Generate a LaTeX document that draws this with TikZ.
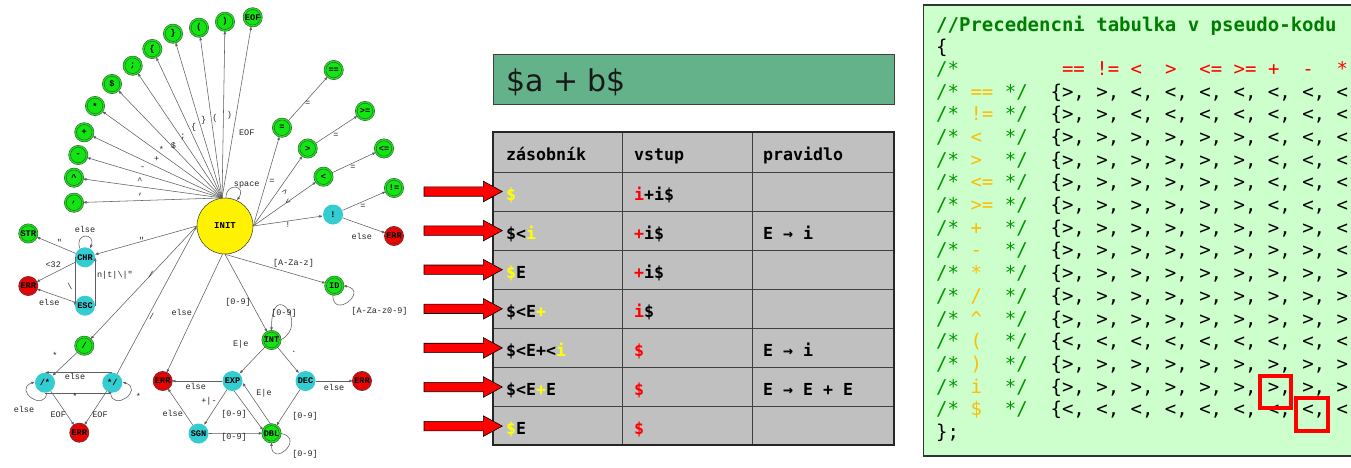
\documentclass[tikz,border=0pt]{standalone}
\usepackage{fontspec}
\setmainfont{DejaVu Sans}
\newfontfamily\codefont{DejaVu Sans Mono}
\newfontfamily\fsmfont{Liberation Mono}
\newfontfamily\boxfont{DejaVu Sans}
\usetikzlibrary{arrows.meta}
\definecolor{accgreen}{RGB}{20,228,20}
\definecolor{tcyan}{RGB}{51,204,208}
\definecolor{errred}{RGB}{245,0,0}
\definecolor{edgegray}{RGB}{95,95,95}
\definecolor{panelgreen}{RGB}{204,255,204}
\definecolor{cmtgreen}{RGB}{0,150,0}
\definecolor{hdrgreen}{RGB}{0,125,0}
\definecolor{lblorange}{RGB}{255,188,0}
\definecolor{boxgreen}{RGB}{100,178,138}
\definecolor{cellgray}{RGB}{192,192,192}
\definecolor{tyellow}{RGB}{255,255,0}
\definecolor{tred}{RGB}{255,0,0}
\newcommand\precrow[4]{%
  \node[code,text=cmtgreen] (#1a) at (936,{98+22.7*#2}) {/*};
  \node[code,text=lblorange] (#1b) at (970.3,{98+22.7*#2}) {#3};
  \node[code,text=cmtgreen] (#1c) at (1004.6,{98+22.7*#2}) {*/};
  \node[code] (#1d) at (1050.4,{98+22.7*#2}) {\{#4};
}
\newcommand\redarrowat[1]{%
  \draw[fill=red,draw=black,line width=0.6pt] (424,{#1-4.7}) -- (483.3,{#1-4.7}) -- (483.3,{#1-10.3}) -- (502.3,#1) -- (483.3,{#1+10.3}) -- (483.3,{#1+4.7}) -- (424,{#1+4.7}) -- cycle;
}
\begin{document}
\begin{tikzpicture}[x=1pt,y=-1pt,
  acc/.style={circle,fill=accgreen,draw=black!75,double=accgreen,double distance=1.4pt,line width=0.45pt,minimum size=17.5pt,inner sep=0pt,font=\fsmfont\bfseries\fontsize{8.6}{8.6}\selectfont},
  errst/.style={acc,fill=errred,double=errred},
  midst/.style={circle,fill=tcyan,minimum size=20pt,inner sep=0pt,font=\fsmfont\bfseries\fontsize{8.6}{8.6}\selectfont},
  initst/.style={circle,fill=yellow,draw=black!80,line width=0.5pt,minimum size=56pt,inner sep=0pt,font=\fsmfont\bfseries\fontsize{9}{9}\selectfont},
  tr/.style={draw=edgegray,line width=0.55pt,-{Latex[length=3.6pt,width=2.8pt]}},
  lbl/.style={font=\fsmfont\fontsize{8.5}{8.5}\selectfont,text=black!85,inner sep=0pt},
  code/.style={font=\codefont\fontsize{19}{19}\selectfont,anchor=base west,inner sep=0pt},
  tcell/.style={font=\codefont\bfseries\fontsize{16.6}{16.6}\selectfont,anchor=base west,inner sep=0pt,text=black},
]
\useasboundingbox (0,0) rectangle (1351,467);
\fill[white] (0,0) rectangle (1351,467);

% ================= state machine =================
\node[initst] (INIT) at (225,226) {INIT};
% fan
\node[acc] (fcomma) at (74,202.7) {,};
\node[acc] (fcaret) at (74,177.7) {\textasciicircum};
\node[acc] (fminus) at (78.3,155) {-};
\node[acc] (fplus) at (84.3,132.3) {+};
\node[acc] (fstar) at (95,106) {*};
\node[acc] (fdollar) at (112,84) {\$};
\node[acc] (fsemi) at (132.7,65.7) {;};
\node[acc] (flbrace) at (152.3,49) {\{};
\node[acc] (frbrace) at (173,33.7) {\}};
\node[acc] (flpar) at (199,27.7) {(};
\node[acc] (frpar) at (225,21.7) {)};
\node[acc] (feof) at (252.7,17.3) {EOF};
% right
\node[acc] (eq) at (282,127.7) {=};
\node[acc] (eqeq) at (333.7,70) {==};
\node[acc] (gt) at (307.7,148.5) {>};
\node[acc] (ge) at (365,111) {>=};
\node[acc] (lt) at (323.5,176.7) {<};
\node[acc] (le) at (384,148.5) {<=};
\node[acc] (ne) at (394,188) {!=};
\node[midst] (excl) at (333,214.5) {!};
\node[errst] (errx) at (394,236) {ERR};
% left
\node[acc] (str) at (28.3,233.5) {STR};
\node[midst] (chr) at (85,257.3) {CHR};
\node[errst] (errl) at (28.3,286) {ERR};
\node[midst] (esc) at (85,305.7) {ESC};
\node[acc] (slash) at (84.3,345.7) {/};
\node[midst] (cmt) at (45,382.7) {/*};
\node[midst] (cmtend) at (112.3,382.7) {*/};
\node[errst] (errc) at (79.3,432.7) {ERR};
% lower right
\node[errst] (errm) at (162.7,381) {ERR};
\node[midst] (expn) at (232.5,381) {EXP};
\node[midst] (dec) at (305.5,381) {DEC};
\node[errst] (errd) at (362,381) {ERR};
\node[acc] (intn) at (271.5,340) {INT};
\node[midst] (sgn) at (198.5,433.5) {SGN};
\node[acc] (dbl) at (271.5,433.3) {DBL};
\node[acc] (idn) at (334.3,285.7) {ID};

% fan edges
\draw[tr] (INIT.96) -- (fcomma);
\draw[tr] (INIT.96) -- (fcaret);
\draw[tr] (INIT.96) -- (fminus);
\draw[tr] (INIT.96) -- (fplus);
\draw[tr] (INIT.96) -- (fstar);
\draw[tr] (INIT.96) -- (fdollar);
\draw[tr] (INIT.96) -- (fsemi);
\draw[tr] (INIT.96) -- (flbrace);
\draw[tr] (INIT.96) -- (frbrace);
\draw[tr] (INIT.96) -- (flpar);
\draw[tr] (INIT.96) -- (frpar);
\draw[tr] (INIT.96) -- (feof);
\draw[tr] (INIT.88) .. controls +(0,-16) and +(10,-15) .. (INIT.65);
% right edges
\draw[tr] (INIT.east) -- (eq);
\draw[tr] (INIT.east) -- (gt);
\draw[tr] (INIT.east) -- (lt);
\draw[tr] (INIT.east) -- (excl);
\draw[tr] (eq) -- (eqeq);
\draw[tr] (gt) -- (ge);
\draw[tr] (lt) -- (le);
\draw[tr] (excl) -- (ne);
\draw[tr] (excl) -- (errx);
% left edges
\draw[tr] (INIT.west) -- (chr);
\draw[tr] (INIT.west) -- (slash);
\draw[tr] (cmtend) -- (INIT.west);
\draw[tr] (chr) -- (str);
\draw[tr] (chr.120) .. controls +(-6,-16) and +(6,-16) .. (chr.60);
\draw[tr] (chr) -- (errl);
\draw[tr] (esc) -- (errl);
\draw[tr] (chr.west) -- (esc.west);
\draw[tr] (esc.east) -- (chr.east);
\draw[tr] (slash) -- (cmt);
\draw[tr] (cmt.south) -- (cmtend.south);
\draw[tr] (cmtend.north) -- (cmt.north);
\draw[tr] (cmt.-80) .. controls +(-2,20) and +(-22,8) .. (cmt.175);
\draw[tr] (cmtend.-100) .. controls +(2,20) and +(22,8) .. (cmtend.5);
\draw[tr] (cmt) -- (errc);
\draw[tr] (cmtend) -- (errc);
% lower right edges
\draw[tr] (INIT.265) -- (errm);
\draw[tr] (INIT.south) -- (intn);
\draw[tr] (INIT.south) -- (idn);
\draw[tr] (idn.-100) .. controls +(0,26) and +(26,5) .. (idn.east);
\draw[tr] (intn.east) .. controls +(30,-15) and +(0,-55) .. (intn.north);
\draw[tr] (intn) -- (expn);
\draw[tr] (intn) -- (dec);
\draw[tr] (expn) -- (errm);
\draw[tr] (dec) -- (errd);
\draw[tr] (expn) -- (sgn);
\draw[tr] (expn.-80) -- (dbl.160);
\draw[tr] (dbl.95) -- (expn.-10);
\draw[tr] (dec) -- (dbl);
\draw[tr] (sgn) -- (errm);
\draw[tr] (sgn) -- (dbl);
\draw[tr] (dbl.east) .. controls +(26,5) and +(0,26) .. (dbl.south);

% edge labels
\node[lbl] (lcomma) at (140.7,195) {,};
\node[lbl] (lcaret) at (140,180.7) {\textasciicircum};
\node[lbl] (lminus) at (142.7,168.3) {-};
\node[lbl] (lplus) at (156.7,159.3) {+};
\node[lbl] (lstar) at (161.3,149) {*};
\node[lbl] (ldollar) at (173.3,145.7) {\$};
\node[lbl] (lsemi) at (183,136.7) {;};
\node[lbl] (llbrace) at (193.7,127.7) {\{};
\node[lbl] (lrbrace) at (203.7,120.7) {\}};
\node[lbl] (llpar) at (215,118.3) {(};
\node[lbl] (lrpar) at (229.3,115) {)};
\node[lbl] (leof) at (246.7,132.3) {EOF};
\node[lbl] (lspace) at (246.7,185) {space};
\node[lbl] (leq) at (272,181.7) {=};
\node[lbl,rotate=50] (lgt) at (285,191.7) {>};
\node[lbl,rotate=35] (llt) at (288,201.7) {<};
\node[lbl] (lexcl) at (288,225) {!};
\node[lbl] (leqeq) at (307.7,103) {=};
\node[lbl] (lge) at (336,135) {=};
\node[lbl] (lle) at (353,167.7) {=};
\node[lbl] (lne) at (363,206.7) {=};
\node[lbl] (lerrx) at (361.7,236) {else};
\node[lbl] (lqchr) at (141.7,240) {"};
\node[lbl] (lslash1) at (151,274.3) {/};
\node[lbl] (lslash2) at (151.7,316) {/};
\node[lbl] (lqstr) at (59.3,242.3) {"};
\node[lbl] (lchrloop) at (85,229) {else};
\node[lbl] (l32) at (53.3,265) {<32};
\node[lbl] (lbs) at (70,286) {\textbackslash};
\node[lbl] (lescerr) at (49.3,302.7) {else};
\node[lbl] (lesc) at (115,275.7) {n|t|\textbackslash|"};
\node[lbl] (lcstar) at (55,355) {*};
\node[lbl] (lelsetop) at (75,376.7) {else};
\node[lbl] (lstarbot) at (75,396.7) {*};
\node[lbl] (lcmtloop) at (24,409.3) {else};
\node[lbl] (lendloop) at (138.3,396.7) {*};
\node[lbl] (leof1) at (58.3,414.3) {EOF};
\node[lbl] (leof2) at (100,414.3) {EOF};
\node[lbl] (lelsem) at (181.7,312.3) {else};
\node[lbl] (lid) at (293.5,263) {[A-Za-z]};
\node[lbl] (lidloop) at (379.5,311) {[A-Za-z0-9]};
\node[lbl] (lint) at (238,302) {[0-9]};
\node[lbl] (lintloop) at (284,313) {[0-9]};
\node[lbl] (lintexp) at (240.7,344) {E|e};
\node[lbl] (lintdec) at (294,352) {.};
\node[lbl] (lexperr) at (195.7,386) {else};
\node[lbl] (ldecerr) at (334,387.7) {else};
\node[lbl] (lexpsgn) at (209,401) {+|-};
\node[lbl] (lexpdbl) at (234,414) {[0-9]};
\node[lbl] (ldblexp) at (264,393.7) {E|e};
\node[lbl] (ldecdbl) at (305,416.7) {[0-9]};
\node[lbl] (lsgnerr) at (172.7,413.7) {else};
\node[lbl] (lsgndbl) at (234,437.5) {[0-9]};
\node[lbl] (ldblloop) at (305,454) {[0-9]};

% ================= expression box =================
\draw[fill=boxgreen,draw=black!75,line width=1pt] (493,54) rectangle (894,104);
\node[anchor=base west,inner sep=0pt,font=\boxfont\fontsize{30}{30}\selectfont,text=black!90] (expr) at (506,91.5) {\$a + b\$};

% ================= table =================
\fill[cellgray] (493,132) rectangle (894,445);
\foreach \yy in {172,211.1,250.2,289.3,328.4,367.5,406.6}
  \draw[black!75,line width=1pt] (493,\yy) -- (894,\yy);
\draw[black!75,line width=1pt] (622,132) -- (622,445);
\draw[black!75,line width=1pt] (752,132) -- (752,445);
\draw[black!85,line width=1.4pt] (493,132) rectangle (894,445);
\node[tcell] (h1) at (506,160.5) {zásobník};
\node[tcell] (h2) at (634,160.5) {vstup};
\node[tcell] (h3) at (763,160.5) {pravidlo};
\node[tcell] (r1a) at (506,200) {\textcolor{tyellow}{\$}};
\node[tcell] (r1b) at (634,200) {\textcolor{tred}{i}+i\$};
\node[tcell] (r2a) at (506,239.1) {\$<\textcolor{tyellow}{i}};
\node[tcell] (r2b) at (634,239.1) {\textcolor{tred}{+}i\$};
\node[tcell] (r2c) at (763,239.1) {E → i};
\node[tcell] (r3a) at (506,278.2) {\textcolor{tyellow}{\$}E};
\node[tcell] (r3b) at (634,278.2) {\textcolor{tred}{+}i\$};
\node[tcell] (r4a) at (506,317.3) {\$<E\textcolor{tyellow}{+}};
\node[tcell] (r4b) at (634,317.3) {\textcolor{tred}{i}\$};
\node[tcell] (r5a) at (506,356.4) {\$<E+<\textcolor{tyellow}{i}};
\node[tcell] (r5b) at (634,356.4) {\textcolor{tred}{\$}};
\node[tcell] (r5c) at (763,356.4) {E → i};
\node[tcell] (r6a) at (506,395.5) {\$<E\textcolor{tyellow}{+}E};
\node[tcell] (r6b) at (634,395.5) {\textcolor{tred}{\$}};
\node[tcell] (r6c) at (763,395.5) {E → E + E};
\node[tcell] (r7a) at (506,434.6) {\textcolor{tyellow}{\$}E};
\node[tcell] (r7b) at (634,434.6) {\textcolor{tred}{\$}};
% red arrows
\redarrowat{191.5}
\redarrowat{230.6}
\redarrowat{269.7}
\redarrowat{308.8}
\redarrowat{347.9}
\redarrowat{387}
\redarrowat{426.1}

% ================= code panel =================
\begin{scope}
\clip (0,0) rectangle (1351,467);
\draw[fill=panelgreen,draw=black!80,line width=1.2pt] (923.3,5) rectangle (1370,456);
\node[code,text=hdrgreen,font=\codefont\bfseries\fontsize{19}{19}\selectfont] (c0) at (936,31) {//Precedencni tabulka v pseudo-kodu};
\node[code] (c1) at (936,53) {\{};
\node[code,text=cmtgreen] (c2) at (936,75.5) {/*};
\node[code,text=tred] (o1) at (1061.8,75.5) {==};
\node[code,text=tred] (o2) at (1096.2,75.5) {!=};
\node[code,text=tred] (o3) at (1130.5,75.5) {<};
\node[code,text=tred] (o4) at (1164.8,75.5) {>};
\node[code,text=tred] (o5) at (1199.1,75.5) {<=};
\node[code,text=tred] (o6) at (1233.4,75.5) {>=};
\node[code,text=tred] (o7) at (1267.8,75.5) {+};
\node[code,text=tred] (o8) at (1302.1,75.5) {-};
\node[code,text=tred] (o9) at (1336.4,75.5) {*};
\precrow{ra}{0}{==}{>, >, <, <, <, <, <, <, <,}
\precrow{rb}{1}{!=}{>, >, <, <, <, <, <, <, <,}
\precrow{rc}{2}{<}{>, >, >, >, >, >, <, <, <,}
\precrow{rd}{3}{>}{>, >, >, >, >, >, <, <, <,}
\precrow{re}{4}{<=}{>, >, >, >, >, >, <, <, <,}
\precrow{rf}{5}{>=}{>, >, >, >, >, >, <, <, <,}
\precrow{rg}{6}{+}{>, >, >, >, >, >, >, >, <,}
\precrow{rh}{7}{-}{>, >, >, >, >, >, >, >, <,}
\precrow{ri}{8}{*}{>, >, >, >, >, >, >, >, >,}
\precrow{rj}{9}{/}{>, >, >, >, >, >, >, >, >,}
\precrow{rk}{10}{\textasciicircum}{>, >, >, >, >, >, >, >, >,}
\precrow{rl}{11}{(}{<, <, <, <, <, <, <, <, <,}
\precrow{rm}{12}{)}{>, >, >, >, >, >, >, >, >,}
\precrow{rn}{13}{i}{>, >, >, >, >, >, >, >, >,}
\precrow{ro}{14}{\$}{<, <, <, <, <, <, <, <, <,}
\node[code] (cend) at (936,438.5) {\};};
\draw[red,line width=3.2pt] (1260,376) rectangle (1291,408);
\draw[red,line width=3.2pt] (1296,398) rectangle (1328,431);
\end{scope}
\end{tikzpicture}
\end{document}
